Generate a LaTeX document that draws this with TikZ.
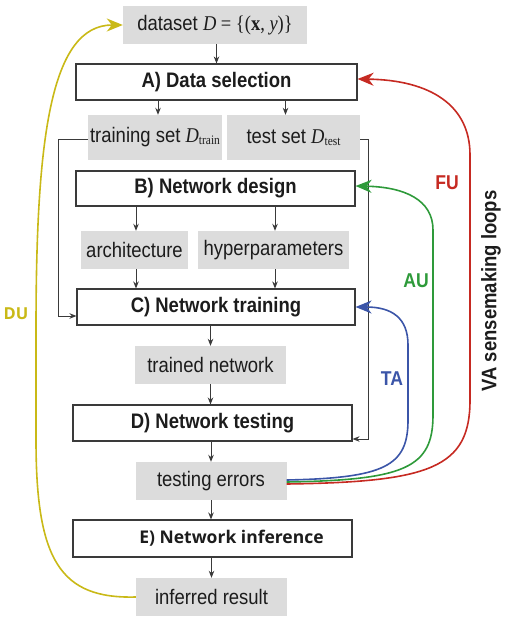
\documentclass[tikz,border=0pt]{standalone}
\usepackage{fontspec}
\setmainfont{Liberation Sans}[FakeStretch=0.88]
\newfontfamily\tms{Liberation Serif}[FakeStretch=0.88]
\newfontfamily\osans{Open Sans}
\usetikzlibrary{arrows.meta}
\definecolor{boxgray}{HTML}{DCDCDC}
\definecolor{edge}{HTML}{3A3A3A}
\definecolor{ink}{HTML}{1C1C1C}
\definecolor{redl}{HTML}{C62A22}
\definecolor{greenl}{HTML}{2E9A3A}
\definecolor{bluel}{HTML}{3B55A8}
\definecolor{yell}{HTML}{C9B917}
\tikzset{
  x=1pt, y=-1pt,
  stepbox/.style={draw=edge, line width=1.1pt, fill=white, inner sep=0pt,
    font=\fontsize{21}{24}\selectfont\bfseries, text=ink},
  databox/.style={fill=boxgray, inner sep=0pt, font=\fontsize{21}{24}\selectfont, text=ink},
  arr/.style={draw=edge, line width=1pt, -{Stealth[length=7pt,width=5.5pt]}},
  loopline/.style={line width=1.6pt, -{Stealth[length=16pt,width=13pt,inset=5pt]}},
  looplabel/.style={font=\fontsize{20}{22}\selectfont\bfseries},
}
\begin{document}
\begin{tikzpicture}
\useasboundingbox (0,0) rectangle (507,620);
% nodes
\node[databox, minimum width=184pt, minimum height=38pt] (ds) at (215,25)
  {dataset {\tms\textit{D} = \{(\textbf{x}, \textit{y})\}}};
\node[stepbox, minimum width=281pt, minimum height=36pt] (A) at (216.5,82) {A) Data selection};
\node[databox, minimum width=134pt, minimum height=45pt] (train) at (155,137.5)
  {training set {\tms\textit{D}\raisebox{-2pt}{\fontsize{13}{13}\selectfont train}}};
\node[databox, minimum width=133pt, minimum height=45pt] (test) at (293.5,137.5)
  {test set {\tms\textit{D}\raisebox{-2pt}{\fontsize{13}{13}\selectfont test}}};
\node[stepbox, minimum width=279pt, minimum height=35pt] (B) at (215.5,188.5) {B) Network design};
\node[databox, minimum width=107pt, minimum height=38pt] (arch) at (134.5,250) {architecture};
\node[databox, minimum width=151pt, minimum height=38pt] (hyp) at (273.5,250) {hyperparameters};
\node[stepbox, minimum width=278pt, minimum height=36pt] (C) at (216,307) {C) Network training};
\node[databox, minimum width=151pt, minimum height=38pt] (trn) at (210.5,365) {trained network};
\node[stepbox, minimum width=279pt, minimum height=36pt] (D) at (212.5,423) {D) Network testing};
\node[databox, minimum width=151pt, minimum height=38pt] (err) at (211,481) {testing errors};
\node[stepbox, minimum width=279pt, minimum height=37pt, font=\osans\fontsize{17.5}{20}\selectfont\bfseries] (E) at (212.5,538.5) {\hspace*{38pt}E) Network inference};
\node[databox, minimum width=151pt, minimum height=38pt] (res) at (211.5,597) {inferred result};
% black connectors
\draw[arr] (ds.south -| A.north) ++(0,0) -- (A.north);
\draw[arr] (A.south -| train.north) ++(3,0) coordinate (a1) -- (a1 |- train.north);
\draw[arr] (A.south -| test.north) ++(-8,0) coordinate (a2) -- (a2 |- test.north);
\draw[arr] (B.south -| arch.north) ++(1.5,0) coordinate (b1) -- (b1 |- arch.north);
\draw[arr] (B.south -| hyp.north) ++(1.5,0) coordinate (b2) -- (b2 |- hyp.north);
\draw[arr] (arch.south) ++(1.5,0) coordinate (c1) -- (c1 |- C.north);
\draw[arr] (hyp.south) ++(1.5,0) coordinate (c2) -- (c2 |- C.north);
\draw[arr] (C.south -| trn.north) -- (trn.north);
\draw[arr] (trn.south) -- (trn.south |- D.north);
\draw[arr] (D.south -| err.north) -- (err.north);
\draw[arr] (err.south) -- (err.south |- E.north);
\draw[arr] (E.south -| res.north) -- (res.north);
\coordinate (tl) at (58,140);
\coordinate (tr) at (368,140);
\draw[arr] (train.west |- tl) -- (tl) |- (C.west |- 0,316);
\draw[arr] (test.east |- tr) -- (tr) |- (D.east |- 0,439);
% colored loops
\draw[loopline, bluel] (err.east |- 0,480) .. controls (385,478) and (408,466) .. (408,420)
  -- (408,345) .. controls (408,318) and (392,307) .. (C.east |- 0,307);
\draw[loopline, greenl] (err.east |- 0,482) .. controls (405,480) and (433,468) .. (433,415)
  -- (433,230) .. controls (433,200) and (405,187) .. (B.east |- 0,186);
\draw[loopline, redl] (err.east |- 0,484) .. controls (430,482) and (470,468) .. (470,400)
  -- (470,155) .. controls (470,105) and (430,80) .. (A.east |- 0,79);
\draw[loopline, yell] (res.west) .. controls (60,599) and (36,560) .. (36,440)
  -- (36,330) .. controls (36,140) and (50,25) .. (ds.west);
% labels
\node[looplabel, redl] (fu) at (447,183) {FU};
\node[looplabel, greenl] (au) at (416,281) {AU};
\node[looplabel, bluel] (ta) at (392,379) {TA};
\node[font=\osans\fontsize{16.5}{18}\selectfont\bfseries, text=yell] (du) at (16,314) {DU};
\node[font=\fontsize{21}{24}\selectfont\bfseries, text=ink, rotate=90] (va) at (491,291) {VA sensemaking loops};
\end{tikzpicture}
\end{document}
